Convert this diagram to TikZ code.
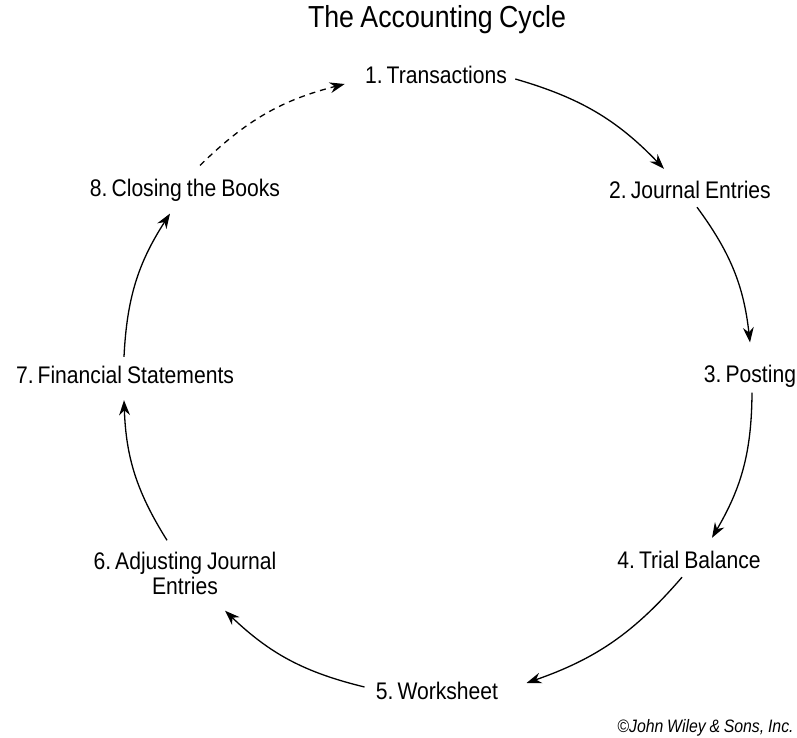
\documentclass[tikz,border=0pt]{standalone}
\usepackage{fontspec}
\setmainfont[FakeStretch=0.88, WordSpace=0.85]{Liberation Sans}
\usetikzlibrary{arrows.meta,calc}

\begin{document}
\begin{tikzpicture}[
    x=0.5pt, y=0.5pt,
    font=\fontsize{12}{12.5}\selectfont,
    stage/.style={inner sep=0pt, align=center},
    flow/.style={line width=0.65pt, -{Stealth[length=7.5pt,width=5.4pt]},
                 bend left=15},
    closing/.style={flow, dashed, dash pattern=on 3pt off 2.5pt}
  ]
    \useasboundingbox (0,0) rectangle (797,738);

    %% --- Title ---
    \node[font=\fontsize{15.2}{16}\selectfont] (title) at (437,718)
      {The Accounting Cycle};

    %% --- Stages round the cycle ---
    \node[stage] (t1) at (436,663) {1.\,Transactions};
    \node[stage] (t2) at (690,548) {2.\,Journal Entries};
    \node[stage] (t3) at (750,362) {3.\,Posting};
    \node[stage] (t4) at (689,178) {4.\,Trial Balance};
    \node[stage] (t5) at (437,47)  {5.\,Worksheet};
    \node[stage] (t6) at (185,165) {6.\,Adjusting Journal\\Entries};
    \node[stage] (t7) at (125,363) {7.\,Financial Statements};
    \node[stage] (t8) at (185,548) {8.\,Closing the Books};

    %% --- Arcs between stages ---
    \draw[flow] ($(t1.east)+(8,-4)$)    to ($(t2.north)+(-26,12)$);
    \draw[flow] ($(t2.south)+(7,-8)$)   to ($(t3.north)+(0,22)$);
    \draw[flow] ($(t3.south)+(2,-5)$)   to ($(t4.north)+(23,13)$);
    \draw[flow] ($(t4.south)+(-7,-8)$)  to ($(t5.east)+(28,8)$);
    \draw[flow] ($(t5.west)+(-11,4)$)   to ($(t6.south)+(40,-16)$);
    \draw[flow] ($(t6.north)+(-18,11)$) to ($(t7.south)+(-1,-16)$);
    \draw[flow] ($(t7.north)+(-1,9)$)   to ($(t8.south)+(-15,-12)$);
    \draw[closing] ($(t8.north)+(15,13)$) to ($(t1.west)+(-20,-9)$);

    \node[font=\fontsize{9}{10}\itshape, inner sep=0pt, anchor=east]
      (credit) at (794,10) {\textcopyright John Wiley \& Sons, Inc.};
  \end{tikzpicture}
\end{document}
